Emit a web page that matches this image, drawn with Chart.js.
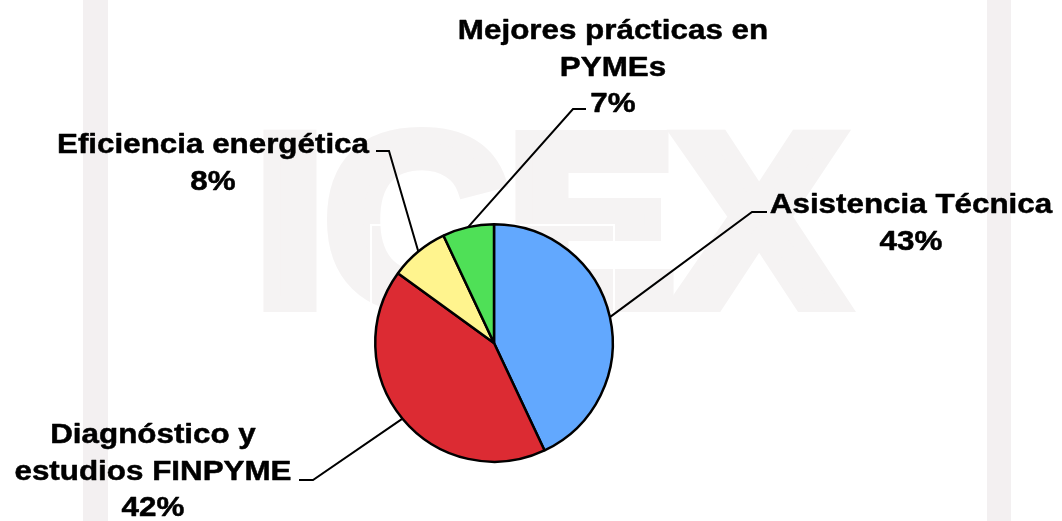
<!DOCTYPE html>
<html><head><meta charset="utf-8">
<script src="https://cdn.jsdelivr.net/npm/chart.js@4.4.1/dist/chart.umd.min.js"></script>
<style>html,body{margin:0;padding:0;background:#fff;overflow:hidden;} #wrap{width:1062px;height:521px;position:relative;}</style>
</head><body><div id="wrap"><canvas id="c" width="1062" height="521"></canvas></div>
<script>
// ---- data ----
const categories = ['Asistencia Técnica', 'Diagnóstico y estudios FINPYME', 'Eficiencia energética', 'Mejores prácticas en PYMEs'];
const values = [43, 42, 8, 7];
const labelLines = [['Asistencia Técnica'], ['Diagnóstico y', 'estudios FINPYME'], ['Eficiencia energética'], ['Mejores prácticas en', 'PYMEs']];
const watermarkText = 'ICEX';

// ---- styles / layout ----
const colors = ['#62A8FE', '#DC2B33', '#FFF48E', '#4FE057'];
const labelLayout = [
  { cx: 911, y0: 213, elbow: [752, 212], tick: [767, 212] },
  { cx: 153, y0: 443, elbow: [313, 480], tick: [299, 480] },
  { cx: 213, y0: 153, elbow: [389, 151], tick: [376, 151] },
  { cx: 613, y0: 39, elbow: [573, 109], tick: [586, 109] }
];
const LINE_H = 36.5;
const FONT = 'bold 28px "Liberation Sans", Arial, sans-serif';
const XSCALE = 1.12;

const backgroundPlugin = {
  id: 'bg',
  beforeDraw(chart) {
    const ctx = chart.ctx;
    ctx.save();
    ctx.fillStyle = '#ffffff';
    ctx.fillRect(0, 0, chart.width, chart.height);
    ctx.fillStyle = '#f3f0f1';
    ctx.fillRect(83, 0, 25, chart.height);
    ctx.fillRect(987, 0, 24, chart.height);
    ctx.restore();
    // watermark
    ctx.save();
    ctx.font = 'bold 242px "Liberation Sans", Arial, sans-serif';
    ctx.fillStyle = '#f5f3f3';
    ctx.strokeStyle = '#f5f3f3';
    ctx.lineJoin = 'miter';
    ctx.textBaseline = 'alphabetic';
    const w = ctx.measureText(watermarkText).width;
    ctx.translate(255, 304);
    ctx.scale(588 / w, 1);
    ctx.lineWidth = 16;
    ctx.fillText(watermarkText, 0, 0);
    ctx.strokeText(watermarkText, 0, 0);
    ctx.restore();
    ctx.save();
    ctx.strokeStyle = '#ffffff';
    ctx.lineWidth = 2;
    ctx.strokeRect(371, 225, 243, 238);
    ctx.restore();
  }
};

const labelPlugin = {
  id: 'labels',
  afterDraw(chart) {
    const ctx = chart.ctx;
    const meta = chart.getDatasetMeta(0);
    const total = values.reduce((a, b) => a + b, 0);
    meta.data.forEach((arc, i) => {
      const p = arc.getProps(['x', 'y', 'startAngle', 'endAngle', 'outerRadius'], true);
      const mid = (p.startAngle + p.endAngle) / 2;
      const sx = p.x + Math.cos(mid) * p.outerRadius;
      const sy = p.y + Math.sin(mid) * p.outerRadius;
      const L = labelLayout[i];
      ctx.save();
      ctx.strokeStyle = '#000';
      ctx.lineWidth = 2;
      ctx.beginPath();
      ctx.moveTo(sx, sy);
      ctx.lineTo(L.elbow[0], L.elbow[1]);
      ctx.lineTo(L.tick[0], L.tick[1]);
      ctx.stroke();
      ctx.fillStyle = '#000';
      ctx.strokeStyle = '#000';
      ctx.lineWidth = 0.5;
      ctx.lineJoin = 'round';
      ctx.font = FONT;
      ctx.textAlign = 'center';
      ctx.textBaseline = 'alphabetic';
      const lines = labelLines[i].concat([Math.round(values[i] / total * 100) + '%']);
      lines.forEach((t, k) => {
        ctx.save();
        ctx.translate(L.cx, L.y0 + k * LINE_H);
        ctx.scale(XSCALE, 1);
        ctx.fillText(t, 0, 0);
        ctx.strokeText(t, 0, 0);
        ctx.restore();
      });
      ctx.restore();
    });
  }
};

new Chart(document.getElementById('c'), {
  type: 'pie',
  data: {
    labels: categories,
    datasets: [{
      data: values,
      backgroundColor: colors,
      borderColor: '#000000',
      borderWidth: 2.5
    }]
  },
  options: {
    responsive: false,
    animation: false,
    layout: { padding: { left: 334, right: 408, top: 223, bottom: 58 } },
    plugins: { legend: { display: false }, tooltip: { enabled: false } }
  },
  plugins: [backgroundPlugin, labelPlugin]
});
</script>
</body></html>
